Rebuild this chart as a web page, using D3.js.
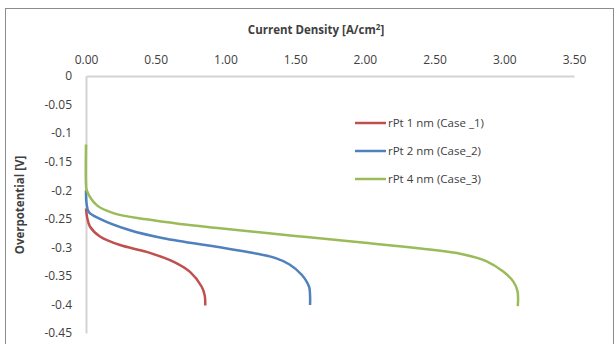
<!DOCTYPE html>
<html>
<head>
<meta charset="utf-8">
<script src="https://cdn.jsdelivr.net/npm/d3@7"></script>
<style>
  html, body { margin: 0; padding: 0; background: #fff; }
  svg { display: block; }
</style>
</head>
<body>
<div class="container"></div>
<script>
const WIDTH = 616, HEIGHT = 344;
const MARGIN = { left: 86, right: 42, top: 76, bottom: 11 };

// series data (current density [A/cm2], overpotential [V])
const seriesNames = ["rPt 1 nm (Case _1)", "rPt 2 nm (Case_2)", "rPt 4 nm (Case_3)"];
const seriesColors = ["#C0504D", "#4F81BD", "#9BBB59"];

const case1X = [0, 0.01, 0.029, 0.10, 0.244, 0.435, 0.626, 0.746, 0.83, 0.852, 0.855];
const case1Y = [-0.232, -0.250, -0.264, -0.281, -0.296, -0.308, -0.325, -0.343, -0.369, -0.385, -0.402];

const case2X = [0, 0.004, 0.02, 0.10, 0.316, 0.555, 0.961, 1.2, 1.36, 1.46, 1.547, 1.60, 1.607, 1.607];
const case2Y = [-0.200, -0.223, -0.238, -0.250, -0.270, -0.284, -0.300, -0.310, -0.319, -0.330, -0.348, -0.369, -0.385, -0.401];

const case3X = [0, 0, 0.005, 0.077, 0.196, 0.435, 0.674, 0.961, 1.5, 2.0, 2.4, 2.7, 2.87, 2.99, 3.065, 3.095, 3.097];
const case3Y = [-0.12, -0.19, -0.20, -0.226, -0.240, -0.251, -0.259, -0.2665, -0.280, -0.292, -0.302, -0.312, -0.324, -0.342, -0.360, -0.377, -0.403];

const xTicks = [0, 0.5, 1, 1.5, 2, 2.5, 3, 3.5];
const yTicks = [0, -0.05, -0.1, -0.15, -0.2, -0.25, -0.3, -0.35, -0.4, -0.45];

const series = [
  { name: seriesNames[0], color: seriesColors[0], values: case1X.map((d, i) => ({ x: d, y: case1Y[i] })) },
  { name: seriesNames[1], color: seriesColors[1], values: case2X.map((d, i) => ({ x: d, y: case2Y[i] })) },
  { name: seriesNames[2], color: seriesColors[2], values: case3X.map((d, i) => ({ x: d, y: case3Y[i] })) }
];

const svg = d3.select(".container")
  .append("svg")
  .attr("width", WIDTH)
  .attr("height", HEIGHT)
  .attr("viewBox", `0 0 ${WIDTH} ${HEIGHT}`)
  .style("font-family", "'Open Sans', 'Noto Sans', sans-serif");

// background + chart frame
svg.append("rect")
  .attr("x", 0).attr("y", 0)
  .attr("width", WIDTH).attr("height", HEIGHT)
  .attr("fill", "#fff");
svg.append("rect")
  .attr("x", 5.5).attr("y", 8.5)
  .attr("width", 608).attr("height", 400)
  .attr("fill", "none")
  .attr("stroke", "#8c8c8c")
  .attr("stroke-width", 1);

const x = d3.scaleLinear()
  .domain([0, 3.5])
  .range([MARGIN.left, WIDTH - MARGIN.right]);
const y = d3.scaleLinear()
  .domain([0, -0.45])
  .range([MARGIN.top, 333]);

// X axis (top)
const xAxis = svg.append("g")
  .attr("class", "x-axis")
  .attr("transform", `translate(0,${MARGIN.top})`)
  .call(d3.axisTop(x)
    .tickValues(xTicks)
    .tickFormat(d3.format(".2f"))
    .tickSize(0)
    .tickSizeOuter(0)
    .tickPadding(12));
xAxis.select(".domain").attr("stroke", "#d3d3d3").attr("stroke-width", 2);
xAxis.selectAll("text")
  .attr("font-size", "12px")
  .attr("fill", "#404040")
  .attr("font-family", "'Open Sans', sans-serif");

// Y axis
const yAxis = svg.append("g")
  .attr("class", "y-axis")
  .attr("transform", `translate(${MARGIN.left},0)`)
  .call(d3.axisLeft(y)
    .tickValues(yTicks)
    .tickFormat(d => d === 0 ? "0" : String(d))
    .tickSize(0)
    .tickSizeOuter(0)
    .tickPadding(14));
yAxis.select(".domain").attr("stroke", "#d3d3d3").attr("stroke-width", 2);
yAxis.selectAll("text")
  .attr("font-size", "12px")
  .attr("fill", "#404040")
  .attr("font-family", "'Open Sans', sans-serif");

// axis titles
const xTitle = svg.append("text")
  .attr("x", 316)
  .attr("y", 34)
  .attr("text-anchor", "middle")
  .attr("font-size", "11.5px")
  .attr("font-weight", "bold")
  .attr("fill", "#404040");
xTitle.append("tspan").text("Current Density [A/cm");
xTitle.append("tspan").attr("font-size", "8px").attr("dy", -4).text("2");
xTitle.append("tspan").attr("dy", 4).text("]");

svg.append("text")
  .attr("transform", "translate(24,205) rotate(-90)")
  .attr("text-anchor", "middle")
  .attr("font-size", "11.5px")
  .attr("font-weight", "bold")
  .attr("fill", "#404040")
  .text("Overpotential [V]");

// lines
const line = d3.line()
  .x(d => x(d.x))
  .y(d => y(d.y))
  .curve(d3.curveCatmullRom.alpha(0.5));

svg.append("g")
  .selectAll("path")
  .data(series)
  .enter()
  .append("path")
  .attr("fill", "none")
  .attr("stroke", d => d.color)
  .attr("stroke-width", 2.5)
  .attr("d", d => line(d.values));

// legend
const legend = svg.append("g")
  .selectAll("g")
  .data(series)
  .enter()
  .append("g")
  .attr("transform", (d, i) => `translate(355,${123 + i * 28})`);
legend.append("line")
  .attr("x1", 0).attr("x2", 31)
  .attr("y1", 0).attr("y2", 0)
  .attr("stroke", d => d.color)
  .attr("stroke-width", 2.5);
legend.append("text")
  .attr("x", 33)
  .attr("y", 4)
  .attr("font-size", "11.5px")
  .attr("fill", "#404040")
  .text(d => d.name);
</script>
</body>
</html>
